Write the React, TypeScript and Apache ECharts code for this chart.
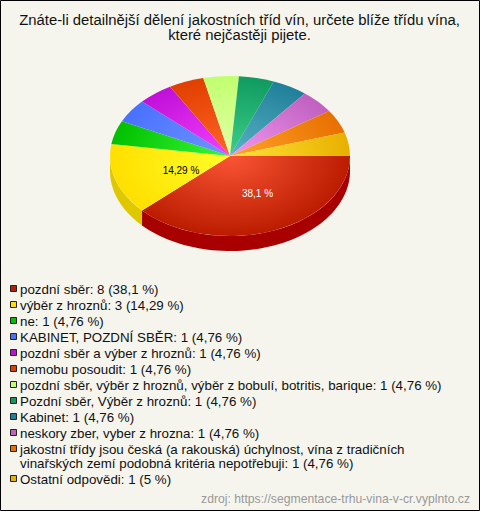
import React, { useEffect, useRef } from "react";
import * as echarts from "echarts";

const categories = [
  "pozdní sběr", "výběr z hroznů", "ne", "KABINET, POZDNÍ SBĚR", "pozdní sběr a výber z hroznů",
  "nemobu posoudit", "pozdní sběr, výběr z hroznů, výběr z bobulí, botritis, barique",
  "Pozdní sběr, Výběr z hroznů", "Kabinet", "neskory zber, vyber z hrozna",
  "jakostní třídy jsou česká (a rakouská) úchylnost, vína z tradičních\nvinařských zemí podobná kritéria nepotřebuji",
  "Ostatní odpovědi",
];
const values = [8, 3, 1, 1, 1, 1, 1, 1, 1, 1, 1, 1];
const percents = ["38,1", "14,29", "4,76", "4,76", "4,76", "4,76", "4,76", "4,76", "4,76", "4,76", "4,76", "5"];
const edgeColors = ["#bb1c00", "#ffdf00", "#00c000", "#4a70ff", "#c010d8", "#e04000", "#c0ff70", "#109a60", "#207f9a", "#c060c0", "#e87000", "#e8b000"];
const coreColors = ["#fa5535", "#ffff28", "#38f838", "#6c96ff", "#f440ff", "#ff6428", "#e6ffa8", "#3cd088", "#58b4c4", "#f098f0", "#ffa428", "#ffe438"];
const wallColors = ["#a80000", "#e0c800", "#00a000", "#3a58d0", "#a000b0", "#c03000", "#a0d860", "#0c8050", "#1a6880", "#a050a0", "#c06000", "#c09000"];
const titleText = "Znáte-li detailnější dělení jakostních tříd vín, určete blíže třídu vína,\nkteré nejčastěji pijete.";
const sourceText = "zdroj: https://segmentace-trhu-vina-v-cr.vyplnto.cz";

const CX = 230, CY = 156, RX = 120, RY = 80, DEPTH = 15;
const total = values.reduce((a, b) => a + b, 0);
const labelAnchors: Record<number, number[]> = { 0: [257.5, 193], 1: [181, 170] };

const renderSlice = (params: any, api: any) => {
  const i = params.dataIndex;
  let before = 0;
  for (let k = 0; k < i; k++) before += values[k];
  const a0 = (before / total) * Math.PI * 2;
  const a1 = ((before + api.value(0)) / total) * Math.PI * 2;
  const children: any[] = [];
  const w0 = a0, w1 = Math.min(a1, Math.PI);
  if (w1 > w0) {
    const pts: number[][] = [];
    const n = 60;
    for (let s = 0; s <= n; s++) {
      const t = w0 + ((w1 - w0) * s) / n;
      pts.push([CX + RX * Math.cos(t), CY + RY * Math.sin(t)]);
    }
    for (let s = n; s >= 0; s--) {
      const t = w0 + ((w1 - w0) * s) / n;
      pts.push([CX + RX * Math.cos(t), CY + DEPTH + RY * Math.sin(t)]);
    }
    children.push({ type: "polygon", shape: { points: pts }, style: { fill: wallColors[i] } });
  }
  children.push({
    type: "group",
    x: CX,
    y: CY,
    scaleY: RY / RX,
    children: [{
      type: "sector",
      shape: { cx: 0, cy: 0, r: RX, r0: 0, startAngle: a0, endAngle: a1, clockwise: true },
      style: {
        fill: new echarts.graphic.RadialGradient(0, 0, RX, [
          { offset: 0, color: coreColors[i] },
          { offset: 1, color: edgeColors[i] },
        ], true),
      },
    }],
  });
  const anchor = labelAnchors[i];
  if (anchor) {
    children.push({
      type: "text",
      x: anchor[0],
      y: anchor[1],
      style: {
        text: `${percents[i]} %`,
        fill: i === 0 ? "#ffffff" : "#000000",
        font: "10px 'Liberation Sans', Arial, sans-serif",
        align: "center",
        verticalAlign: "middle",
      },
    });
  }
  return { type: "group", children };
};

const FONT = "13.33px 'Liberation Sans', Arial, sans-serif";

function legendGraphics() {
  const out: any[] = [];
  let y = 289;
  categories.forEach((c, i) => {
    const lines = c.split("\n").length;
    out.push({
      type: "rect", shape: { x: 10.5, y: y - 3.5, width: 6, height: 6 },
      style: { fill: edgeColors[i], stroke: "#222222", lineWidth: 1 },
    });
    out.push({
      type: "text", x: 20, y: y - 7,
      style: {
        text: `${c}: ${values[i]} (${percents[i]} %)`,
        font: FONT, fill: "#111111", lineHeight: 14, verticalAlign: "top",
      },
    });
    y += 16 + (lines - 1) * 14;
  });
  return out;
}

export default function App() {
  const ref = useRef<HTMLDivElement>(null);
  useEffect(() => {
    document.body.style.margin = "0";
    const chart = echarts.init(ref.current!, null, { renderer: "svg" });
    chart.setOption({
      animation: false,
      backgroundColor: "#f5f5ee",
      series: [{
        type: "custom",
        coordinateSystem: "none",
        renderItem: renderSlice,
        data: values.map((v) => [v]),
        silent: true,
      }],
      graphic: [
        { type: "rect", shape: { x: 0.5, y: 0.5, width: 479, height: 510 }, style: { fill: "none", stroke: "#000000", lineWidth: 1 }, silent: true },
        { type: "text", x: 239.5, y: 12, style: { text: titleText, font: "14.85px 'Liberation Sans', Arial, sans-serif", fill: "#111111", align: "center", lineHeight: 15, verticalAlign: "top" } },
        ...legendGraphics(),
        { type: "text", x: 470, y: 493, style: { text: sourceText, font: "12.2px 'Liberation Sans', Arial, sans-serif", fill: "#999999", align: "right", verticalAlign: "top" } },
      ],
    });
    return () => chart.dispose();
  }, []);
  return <div ref={ref} style={{ width: 480, height: 511 }} />;
}
